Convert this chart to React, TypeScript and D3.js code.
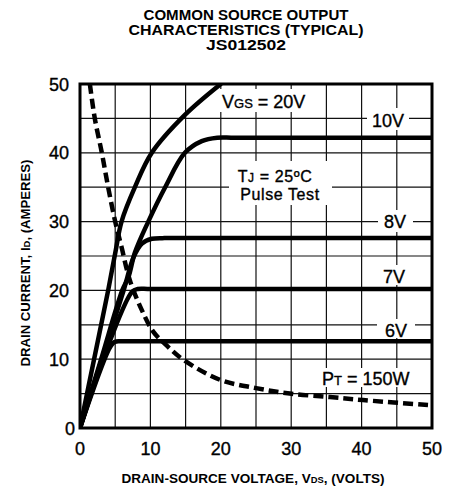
import React from "react";
import * as d3 from "d3";

const TITLE_LINES = ["COMMON SOURCE OUTPUT", "CHARACTERISTICS (TYPICAL)", "JS012502"];
const VDS_TICKS = [0, 10, 20, 30, 40, 50];
const ID_TICKS = [0, 10, 20, 30, 40, 50];
const GRID_STEPS = [0, 5, 10, 15, 20, 25, 30, 35, 40, 45, 50];

// [VDS (V), ID (A)]
const VGS_20V: [number, number][] = [[0, 0], [2, 10], [4, 20], [5, 25.4], [5.9, 30], [7.8, 35], [10.2, 40], [14.9, 45.5], [20, 50]];
const VGS_10V: [number, number][] = [[0, 0], [3, 10], [6, 20], [6.9, 22], [7.8, 25.5], [9.7, 30], [12.1, 35], [14.9, 40], [17.3, 41.7], [19.5, 42.2], [22, 42.2], [50, 42.2]];
const VGS_8V: [number, number][] = [[0, 0], [3.1, 10], [6.2, 20], [7.6, 24.8], [8.8, 26.8], [10.2, 27.5], [12, 27.6], [15, 27.6], [50, 27.6]];
const VGS_7V: [number, number][] = [[0, 0], [4.3, 12.8], [7.4, 19.8], [8.2, 20.2], [10, 20.2], [50, 20.2]];
const VGS_6V: [number, number][] = [[0, 0], [4.2, 11.6], [4.9, 12.5], [5.8, 12.6], [7.5, 12.6], [50, 12.6]];
const PT_150W: [number, number][] = [[1.4, 50], [2.1, 45], [3.1, 40], [4.0, 35], [5.0, 30], [5.9, 26.3], [7.1, 21.4], [8.8, 17.1], [10.4, 14], [12.3, 12], [14.7, 9.9], [19.9, 7.0], [25, 5.8], [29.8, 5.0], [35.5, 4.5], [40.2, 4.06], [50, 3.3]];

const SOLID_CURVES = [VGS_20V, VGS_10V, VGS_8V, VGS_7V, VGS_6V];

const FONT = "'Liberation Sans', Arial, Helvetica, sans-serif";

export default function App() {
  const x = d3.scaleLinear().domain([0, 50]).range([80, 432]);
  const y = d3.scaleLinear().domain([0, 50]).range([428, 84]);
  const line = d3
    .line<[number, number]>()
    .x((d) => x(d[0]))
    .y((d) => y(d[1]))
    .curve(d3.curveCatmullRom.alpha(0.5));

  const labelStyle = { fontFamily: FONT, fontSize: 18, fill: "#000", stroke: "#000", strokeWidth: 0.35 } as const;

  return (
    <svg width={453} height={489} style={{ position: "absolute", left: 0, top: 0, background: "#fff" }}>
      <rect x={0} y={0} width={453} height={489} fill="#fff" />
      <defs>
        <clipPath id="plot">
          <rect x={x(0)} y={y(50)} width={x(50) - x(0)} height={y(0) - y(50)} />
        </clipPath>
      </defs>
      {/* title */}
      {TITLE_LINES.map((t, i) => (
        <text
          key={t}
          x={246}
          y={20 + i * 15}
          textAnchor="middle"
          fontFamily={FONT}
          fontWeight="bold"
          fontSize={14}
          textLength={[205, 235, 80][i]}
          lengthAdjust="spacingAndGlyphs"
        >
          {t}
        </text>
      ))}
      {/* grid */}
      <g stroke="#111" strokeWidth={1.2}>
        {GRID_STEPS.map((v) => (
          <line key={"v" + v} x1={x(v)} x2={x(v)} y1={y(0)} y2={y(50)} />
        ))}
        {GRID_STEPS.map((v) => (
          <line key={"h" + v} x1={x(0)} x2={x(50)} y1={y(v)} y2={y(v)} />
        ))}
      </g>
      {/* label backgrounds */}
      <g fill="#fff">
        <rect x={213} y={89} width={93} height={23} />
        <rect x={367} y={108} width={42} height={22} />
        <rect x={229} y={161} width={103} height={44} />
        <rect x={378} y={210} width={35} height={22} />
        <rect x={378} y={265} width={32} height={20} />
        <rect x={377} y={319} width={38} height={19} />
        <rect x={320} y={368} width={92} height={19} />
      </g>
      {/* curves */}
      <g clipPath="url(#plot)" fill="none" stroke="#000" strokeLinejoin="round" strokeLinecap="round">
        {SOLID_CURVES.map((c, i) => (
          <path key={i} d={line(c) || ""} strokeWidth={4.5} />
        ))}
        <path d={line(PT_150W) || ""} strokeWidth={4.5} strokeDasharray="10 5" strokeLinecap="butt" />
      </g>
      {/* border */}
      <rect x={x(0)} y={y(50)} width={x(50) - x(0)} height={y(0) - y(50)} fill="none" stroke="#000" strokeWidth={3} />
      {/* tick labels */}
      {ID_TICKS.map((v) => (
        <text key={"yl" + v} x={v === 0 ? 75 : 69} y={y(v) + 6.5} textAnchor="end" {...labelStyle}>
          {v}
        </text>
      ))}
      {VDS_TICKS.map((v) => (
        <text key={"xl" + v} x={x(v)} y={455} textAnchor="middle" {...labelStyle}>
          {v}
        </text>
      ))}
      {/* curve labels */}
      <text x={222} y={108} {...labelStyle}>
        V<tspan fontSize={13}>GS</tspan> = 20V
      </text>
      <text x={388} y={127} textAnchor="middle" {...labelStyle}>10V</text>
      <text x={275} y={182} textAnchor="middle" {...labelStyle} fontSize={16} letterSpacing={0.6}>
        T<tspan fontSize={12}>J</tspan> = 25ºC
      </text>
      <text x={280} y={200} textAnchor="middle" {...labelStyle} fontSize={16} letterSpacing={0.6}>Pulse Test</text>
      <text x={395} y={228} textAnchor="middle" {...labelStyle}>8V</text>
      <text x={394} y={283} textAnchor="middle" {...labelStyle}>7V</text>
      <text x={396} y={337} textAnchor="middle" {...labelStyle}>6V</text>
      <text x={322} y={385} {...labelStyle}>
        P<tspan fontSize={13}>T</tspan> = 150W
      </text>
      {/* axis titles */}
      <text
        x={253}
        y={483}
        textAnchor="middle"
        fontFamily={FONT}
        fontWeight="bold"
        fontSize={13}
        textLength={263}
        lengthAdjust="spacingAndGlyphs"
      >
        DRAIN-SOURCE VOLTAGE, V<tspan fontSize={9}>DS</tspan>, (VOLTS)
      </text>
      <text
        transform="translate(30,263) rotate(-90)"
        textAnchor="middle"
        fontFamily={FONT}
        fontWeight="bold"
        fontSize={12.5}
        textLength={207}
        lengthAdjust="spacingAndGlyphs"
      >
        DRAIN CURRENT, I<tspan fontSize={9}>D</tspan>, (AMPERES)
      </text>
    </svg>
  );
}
